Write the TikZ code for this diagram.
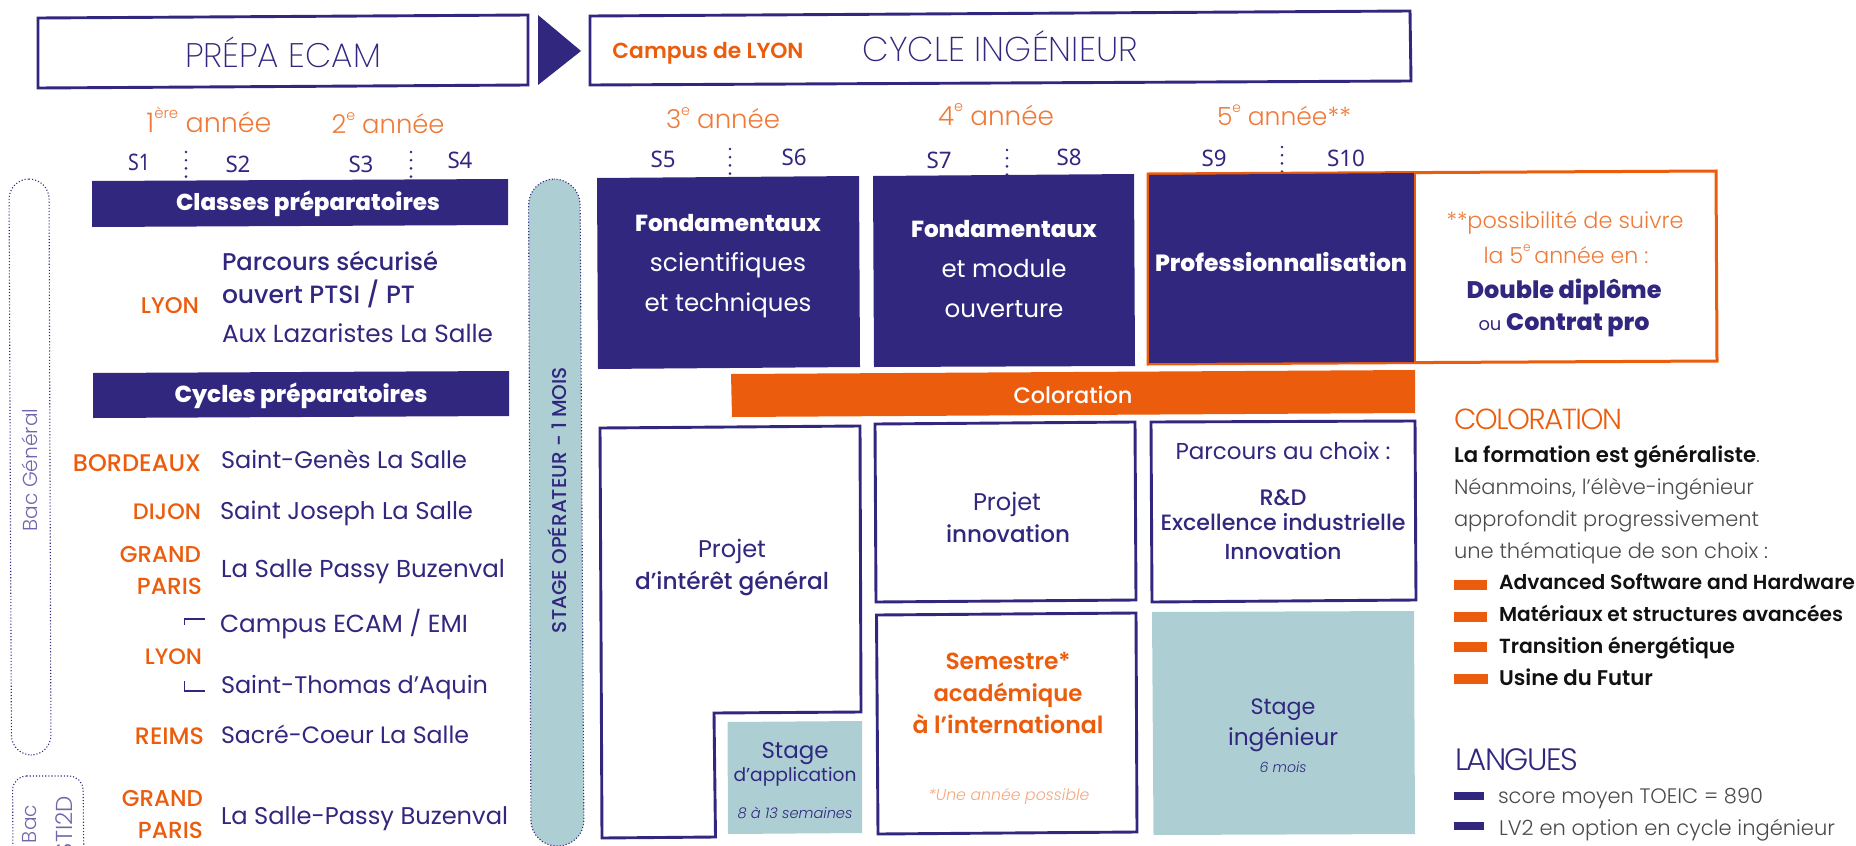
\documentclass[tikz,border=0pt]{standalone}
\usepackage{graphicx}
\usepackage{fontspec}
\setmainfont{Poppins}
\newfontface\fe{Poppins ExtraLight}
\newfontface\fl{Poppins Light}
\newfontface\fm{Poppins Medium}
\newfontface\fs{Poppins SemiBold}
\newfontface\fx{Poppins ExtraBold}
\newfontface\fli{Poppins Light Italic}
\newfontface\flt[LetterSpace=-5]{Poppins Light}
\newfontface\fsem{Noto Sans}
\definecolor{navy}{HTML}{31277F}
\definecolor{dorange}{HTML}{EB5C0C}
\definecolor{lorange}{HTML}{EF7A38}
\definecolor{paleorange}{HTML}{F6A87C}
\definecolor{teal}{HTML}{ADCFD4}
\definecolor{lav}{HTML}{6F67AB}
\definecolor{grey}{HTML}{4A4A4A}
\definecolor{ink}{HTML}{111111}
\newcommand\supr[1]{\raisebox{0.5em}{\fontsize{11}{11}\selectfont #1}}
\newcommand\tx[6]{\node[anchor=#2,inner sep=0pt,outer sep=0pt,yshift=-1pt] (#1) at (#3,#4) {\resizebox{#5pt}{!}{\fontsize{20}{24}\selectfont #6}};}
\newcommand\sem[5]{\node[anchor=base,inner sep=0pt,outer sep=0pt] (#1) at (#2,#3) {\resizebox{#4pt}{16.5pt}{\fontsize{20}{24}\fsem\color{navy}#5}};}
\tikzset{
  outline/.style={draw=navy,line width=2.9pt,fill=white,line join=miter},
  navyblock/.style={fill=navy},
  tealblock/.style={fill=teal},
  dotpill/.style={draw=navy,line width=1.1pt,dash pattern=on 1.1pt off 2pt},
  sepdots/.style={draw=navy,line width=2.9pt,line cap=round,dash pattern=on 0pt off 8.2pt},
  bracket/.style={draw=navy,line width=1.1pt},
  orangedash/.style={fill=dorange},
}
\begin{document}
\begin{tikzpicture}[x=1pt,y=-1pt]
\useasboundingbox (0,0) rectangle (1856,846);
\clip (0,0) rectangle (1856,846);
% header
\draw[outline] (38,18) -- (528,15) -- (528,85) -- (38,88) -- cycle;
\fill[navy] (538,15) -- (581,51) -- (538,85) -- cycle;
\draw[outline] (590,16) -- (1410,11) -- (1411,81) -- (590,85) -- cycle;
\tx{prepa}{base}{283}{66}{196}{\fe\color{navy}PRÉPA ECAM}
\tx{campus}{base}{708}{57}{191}{\fs\color{dorange}Campus de LYON}
\tx{cycle}{base}{1000}{60}{275}{\fe\color{navy}CYCLE INGÉNIEUR}
% years
\tx{y1}{base}{209}{131}{125}{\fl\color{lorange}1\supr{ère} année}
\tx{y2}{base}{388}{132}{113}{\fl\color{lorange}2\supr{e} année}
\tx{y3}{base}{723}{127}{114}{\fl\color{lorange}3\supr{e} année}
\tx{y4}{base}{996}{124}{116}{\fl\color{lorange}4\supr{e} année}
\tx{y5}{base}{1284}{124}{134}{\fl\color{lorange}5\supr{e} année**}
% semesters
\sem{s1}{139}{170}{22}{S1}
\sem{s2}{238}{172}{25}{S2}
\sem{s3}{361}{172}{25}{S3}
\sem{s4}{460}{168}{25}{S4}
\sem{s5}{663}{167}{25}{S5}
\sem{s6}{794}{165}{25}{S6}
\sem{s7}{939}{168}{25}{S7}
\sem{s8}{1069}{165}{25}{S8}
\sem{s9}{1214}{166}{25}{S9}
\sem{s10}{1346}{166}{38}{S10}
\draw[sepdots] (186,152) -- (186,178);
\draw[sepdots] (411,152) -- (411,178);
\draw[sepdots] (730,149) -- (730,175);
\draw[sepdots] (1007,150) -- (1007,176);
\draw[sepdots] (1282,147) -- (1282,173);
% left pills
\draw[dotpill,rounded corners=20pt] (9,179) -- (49,179) -- (51,755) -- (11.5,755) -- cycle;
\node[rotate=90,inner sep=0pt] (bacg) at (30,470) {\resizebox{123pt}{!}{\fontsize{20}{24}\fl\color{lav}Bac Général}};
\draw[dotpill,rounded corners=14pt] (12.6,776) -- (83,776) -- (84,870) -- (13,870) -- cycle;
\node[rotate=90,inner sep=0pt] (bac) at (30,824) {\resizebox{38pt}{!}{\fontsize{20}{24}\fl\color{lav}Bac}};
\node[rotate=90,inner sep=0pt] (sti) at (64,826) {\resizebox{60pt}{!}{\fontsize{20}{24}\fl\color{lav}STI2D}};
\draw[dotpill,fill=teal,rounded corners=26pt] (528.5,179) -- (580,179) -- (584,846) -- (531,846) -- cycle;
\node[rotate=90,inner sep=0pt] (stageop) at (557,500) {\resizebox{266pt}{!}{\fontsize{20}{24}\fm\color{navy}STAGE OPÉRATEUR - 1 MOIS}};
% prep bars
\fill[navyblock] (92,181) -- (508,179) -- (508,225) -- (92,227) -- cycle;
\tx{classes}{base}{308}{209}{264}{\fx\color{white}Classes préparatoires}
\fill[navyblock] (93,373) -- (509,371) -- (509,416) -- (93,418) -- cycle;
\tx{cyc}{base}{301}{401}{253}{\fx\color{white}Cycles préparatoires}
% cities
\tx{c1}{base east}{199}{312}{58}{\fm\color{dorange}LYON}
\tx{c2}{base east}{201}{470}{128}{\fm\color{dorange}BORDEAUX}
\tx{c3}{base east}{201}{518}{68}{\fm\color{dorange}DIJON}
\tx{c4}{base east}{201}{561}{81}{\fm\color{dorange}GRAND}
\tx{c5}{base east}{202}{593}{65}{\fm\color{dorange}PARIS}
\tx{c6}{base east}{202}{663}{57}{\fm\color{dorange}LYON}
\tx{c7}{base east}{204}{743}{69}{\fm\color{dorange}REIMS}
\tx{c8}{base east}{203}{805}{81}{\fm\color{dorange}GRAND}
\tx{c9}{base east}{203}{837}{65}{\fm\color{dorange}PARIS}
% schools
\tx{e1}{base west}{222}{269}{216}{\fm\color{navy}Parcours sécurisé}
\tx{e2}{base west}{222}{302}{193}{\fm\color{navy}ouvert PTSI / PT}
\tx{e3}{base west}{222}{341}{271}{\color{navy}Aux Lazaristes La Salle}
\tx{e4}{base west}{221}{467}{246}{\color{navy}Saint-Genès La Salle}
\tx{e5}{base west}{220}{518}{253}{\color{navy}Saint Joseph La Salle}
\tx{e6}{base west}{221}{576}{284}{\color{navy}La Salle Passy Buzenval}
\tx{e7}{base west}{220}{631}{248}{\color{navy}Campus ECAM / EMI}
\tx{e8}{base west}{221}{692}{267}{\color{navy}Saint-Thomas d’Aquin}
\tx{e9}{base west}{221}{742}{248}{\color{navy}Sacré-Coeur La Salle}
\tx{e10}{base west}{221}{823}{287}{\color{navy}La Salle-Passy Buzenval}
\draw[bracket] (205,619) -- (184.5,619) -- (184.5,625);
\draw[bracket] (184.5,681) -- (184.5,691) -- (205,691);
% navy blocks
\fill[navyblock] (597,178) -- (859,176) -- (860,367) -- (598,369) -- cycle;
\fill[navyblock] (873,176) -- (1134,174) -- (1135,366) -- (874,367) -- cycle;
\draw[draw=dorange,line width=3pt,fill=white] (1148,174) -- (1716,171) -- (1717,361) -- (1148,364) -- cycle;
\fill[navyblock] (1149,175) -- (1414,173) -- (1414,362) -- (1149,363) -- cycle;
\draw[draw=dorange,line width=2pt] (1415,172) -- (1415,363);
\tx{f1a}{base}{728}{230}{186}{\fx\color{white}Fondamentaux}
\tx{f1b}{base}{728}{270}{156}{\color{white}scientifiques}
\tx{f1c}{base}{728}{310}{167}{\color{white}et techniques}
\tx{f2a}{base}{1004}{236}{186}{\fx\color{white}Fondamentaux}
\tx{f2b}{base}{1004}{276}{125}{\color{white}et module}
\tx{f2c}{base}{1004}{316}{119}{\color{white}ouverture}
\tx{f3}{base}{1281}{270}{252}{\fx\color{white}Professionnalisation}
\tx{p1}{base}{1565}{227}{237}{\fl\color{lorange}**possibilité de suivre}
\tx{p2}{base}{1566}{262}{165}{\fl\color{lorange}la 5\supr{e}\,année en :}
\tx{p3}{base}{1564}{297}{195}{\fx\color{navy}Double diplôme}
\tx{p4}{base}{1564}{329}{171}{\fontsize{15}{18}\selectfont\color{navy}ou \fontsize{20}{24}\fx Contrat pro}
% coloration bar
\fill[fill=dorange] (731,374) -- (1415,370) -- (1415,413) -- (732,417) -- cycle;
\tx{colbar}{base}{1073}{402}{119}{\fm\color{white}Coloration}
% lower boxes
\draw[outline] (600,428) -- (860,426) -- (861,712) -- (714,713) -- (715.5,837) -- (602,838) -- cycle;
\tx{pg1}{base}{732}{556}{68}{\color{navy}Projet}
\tx{pg2}{base}{732}{588}{194}{\fm\color{navy}d’intérêt général}
\fill[tealblock] (727.5,722) -- (862,721) -- (862,833) -- (728,834) -- cycle;
\tx{sa1}{base}{795}{757}{67}{\color{navy}Stage}
\tx{sa2}{base}{795}{780}{123}{\color{navy}d’application}
\tx{sa3}{base}{795}{817}{115}{\fli\color{navy}8 à 13 semaines}
\draw[outline] (875,424) -- (1135,422) -- (1136,600) -- (876,602) -- cycle;
\tx{pi1}{base}{1007}{509}{68}{\color{navy}Projet}
\tx{pi2}{base}{1008}{541}{124}{\fm\color{navy}innovation}
\draw[outline] (1151,422) -- (1415,421) -- (1416,600) -- (1152,602) -- cycle;
\tx{pc1}{base}{1283}{458}{215}{\color{navy}Parcours au choix :}
\tx{pc2}{base}{1283}{504}{47}{\fm\color{navy}R\&D}
\tx{pc3}{base}{1283}{529}{245}{\fm\color{navy}Excellence industrielle}
\tx{pc4}{base}{1283}{558}{117}{\fm\color{navy}Innovation}
\draw[outline] (876.5,615) -- (1136,613) -- (1137,832) -- (878,834) -- cycle;
\tx{si1}{base}{1008}{668}{125}{\fs\color{dorange}Semestre*}
\tx{si2}{base}{1008}{700}{149}{\fs\color{dorange}académique}
\tx{si3}{base}{1008}{732}{191}{\fs\color{dorange}à l’international}
\tx{si4}{base}{1009}{799}{161}{\fli\color{paleorange}*Une année possible}
\fill[tealblock] (1152,612) -- (1414,611) -- (1415,834) -- (1153.5,835) -- cycle;
\tx{st1}{base}{1283}{713}{65}{\color{navy}Stage}
\tx{st2}{base}{1283}{744}{110}{\color{navy}ingénieur}
\tx{st3}{base}{1283}{771}{47}{\fli\color{navy}6 mois}
% side text
\tx{t1}{base west}{1454}{428}{168}{\flt\color{dorange}COLORATION}
\tx{t2}{base west}{1454}{461}{306}{\fs\color{ink}La formation est généraliste\fl\color{grey}.}
\tx{t3}{base west}{1454}{493}{300}{\fl\color{grey}Néanmoins, l’élève-ingénieur}
\tx{t4}{base west}{1454}{525}{305}{\fl\color{grey}approfondit progressivement}
\tx{t5}{base west}{1454}{557}{314}{\fl\color{grey}une thématique de son choix :}
\fill[orangedash] (1454,580) rectangle (1487,590);
\fill[orangedash] (1454,612) rectangle (1487,622);
\fill[orangedash] (1454,642) rectangle (1487,652);
\fill[orangedash] (1454,674) rectangle (1488,684);
\tx{l1}{base west}{1499}{588}{356}{\fs\color{ink}Advanced Software and Hardware}
\tx{l2}{base west}{1499}{620}{344}{\fs\color{ink}Matériaux et structures avancées}
\tx{l3}{base west}{1499}{652}{236}{\fs\color{ink}Transition énergétique}
\tx{l4}{base west}{1499}{684}{154}{\fs\color{ink}Usine du Futur}
\tx{t6}{base west}{1455}{769}{123}{\flt\color{navy}LANGUES}
\fill[navyblock] (1454,792) rectangle (1484,800);
\fill[navyblock] (1454,822) rectangle (1484,830);
\tx{t7}{base west}{1498}{802}{265}{\fl\color{grey}score moyen TOEIC = 890}
\tx{t8}{base west}{1499}{834}{336}{\fl\color{grey}LV2 en option en cycle ingénieur}
\end{tikzpicture}
\end{document}
